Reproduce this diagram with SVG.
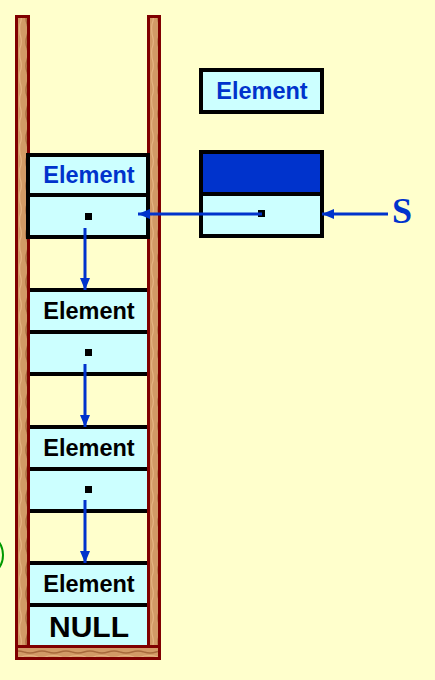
<svg xmlns="http://www.w3.org/2000/svg" width="435" height="680" viewBox="0 0 435 680">
<defs>
<pattern id="woodV" width="12" height="24" patternUnits="userSpaceOnUse">
<rect width="12" height="24" fill="#D29A66"/>
<path d="M3 0 Q5 6 3 12 Q1 18 3 24" stroke="#A86A3C" stroke-width="1.4" fill="none"/>
<path d="M8 0 Q7 8 9 14 Q10 20 8 24" stroke="#E6B482" stroke-width="1.2" fill="none"/>
</pattern>
<pattern id="woodH" width="24" height="12" patternUnits="userSpaceOnUse">
<rect width="24" height="12" fill="#D29A66"/>
<path d="M0 4 Q6 6 12 4 Q18 2 24 4" stroke="#A86A3C" stroke-width="1.4" fill="none"/>
<path d="M0 8 Q8 7 14 9 Q20 10 24 8" stroke="#E6B482" stroke-width="1.2" fill="none"/>
</pattern>
<marker id="arr" viewBox="0 0 12 10" refX="12" refY="5" markerWidth="12" markerHeight="10" markerUnits="userSpaceOnUse" orient="auto">
<path d="M0 0 L12 5 L0 10 Z" fill="#0033CC"/>
</marker>
<style>
.wall{fill:url(#woodV);stroke:#800000;stroke-width:3}
.cell{fill:#CCFFFF}
.hl{stroke:#000;stroke-width:4}
.box{fill:#CCFFFF;stroke:#000;stroke-width:4}
.lbl{font-family:"Liberation Sans",Arial,sans-serif;font-weight:bold;font-size:23.5px;text-anchor:middle;fill:#000}
.blue{fill:#0033CC}
.null{font-family:"Liberation Sans",Arial,sans-serif;font-weight:bold;font-size:30px;text-anchor:middle;fill:#000}
.conn{stroke:#0033CC;stroke-width:3;fill:none;marker-end:url(#arr)}
.dot{fill:#000}
</style>
</defs>
<rect width="435" height="680" fill="#FFFFCC"/>
<circle cx="-20" cy="555" r="23" fill="none" stroke="#009900" stroke-width="2"/>
<g id="stack">
<rect class="wall" x="16.5" y="16.5" width="12" height="642"/>
<rect class="wall" x="148.5" y="16.5" width="11" height="642"/>
<rect x="16.5" y="646.5" width="143" height="12" fill="url(#woodH)" stroke="#800000" stroke-width="3"/>
</g>
<g id="node1">
<rect class="box" x="28" y="155" width="120" height="82"/>
<line class="hl" x1="28" y1="195" x2="148" y2="195"/>
<text class="lbl blue" x="89" y="183">Element</text>
<rect class="dot" x="85" y="213" width="7" height="7"/>
</g>
<g id="node2">
<rect class="cell" x="30" y="290" width="117" height="84"/>
<line class="hl" x1="30" y1="290" x2="147" y2="290"/>
<line class="hl" x1="30" y1="332" x2="147" y2="332"/>
<line class="hl" x1="30" y1="374" x2="147" y2="374"/>
<text class="lbl" x="89" y="319">Element</text>
<rect class="dot" x="85" y="349" width="7" height="7"/>
</g>
<g id="node3">
<rect class="cell" x="30" y="427" width="117" height="84"/>
<line class="hl" x1="30" y1="427" x2="147" y2="427"/>
<line class="hl" x1="30" y1="469" x2="147" y2="469"/>
<line class="hl" x1="30" y1="511" x2="147" y2="511"/>
<text class="lbl" x="89" y="456">Element</text>
<rect class="dot" x="85" y="486" width="7" height="7"/>
</g>
<g id="node4">
<rect class="cell" x="30" y="563" width="117" height="82"/>
<line class="hl" x1="30" y1="563" x2="147" y2="563"/>
<line class="hl" x1="30" y1="605" x2="147" y2="605"/>
<text class="lbl" x="89" y="592">Element</text>
<text class="null" x="89" y="637">NULL</text>
</g>
<g id="newElement">
<rect class="box" x="201" y="70" width="121" height="42"/>
<text class="lbl blue" x="262" y="99">Element</text>
</g>
<g id="newNode">
<rect class="box" x="201" y="152" width="121" height="84"/>
<rect x="203" y="154" width="117" height="39" fill="#0033CC"/>
<line class="hl" x1="201" y1="194" x2="322" y2="194"/>
<rect class="dot" x="258" y="210" width="7" height="7"/>
</g>
<g id="S">
<text x="402" y="223" font-family="'Liberation Serif','Times New Roman',serif" font-weight="bold" font-size="36" text-anchor="middle" fill="#0033CC">S</text>
</g>
<g id="connectors">
<line class="conn" x1="262" y1="214" x2="138" y2="214"/>
<line class="conn" x1="388" y1="214" x2="322" y2="214"/>
<line class="conn" x1="85" y1="228" x2="85" y2="290"/>
<line class="conn" x1="85" y1="364" x2="85" y2="427"/>
<line class="conn" x1="85" y1="500" x2="85" y2="563"/>
</g>
</svg>
